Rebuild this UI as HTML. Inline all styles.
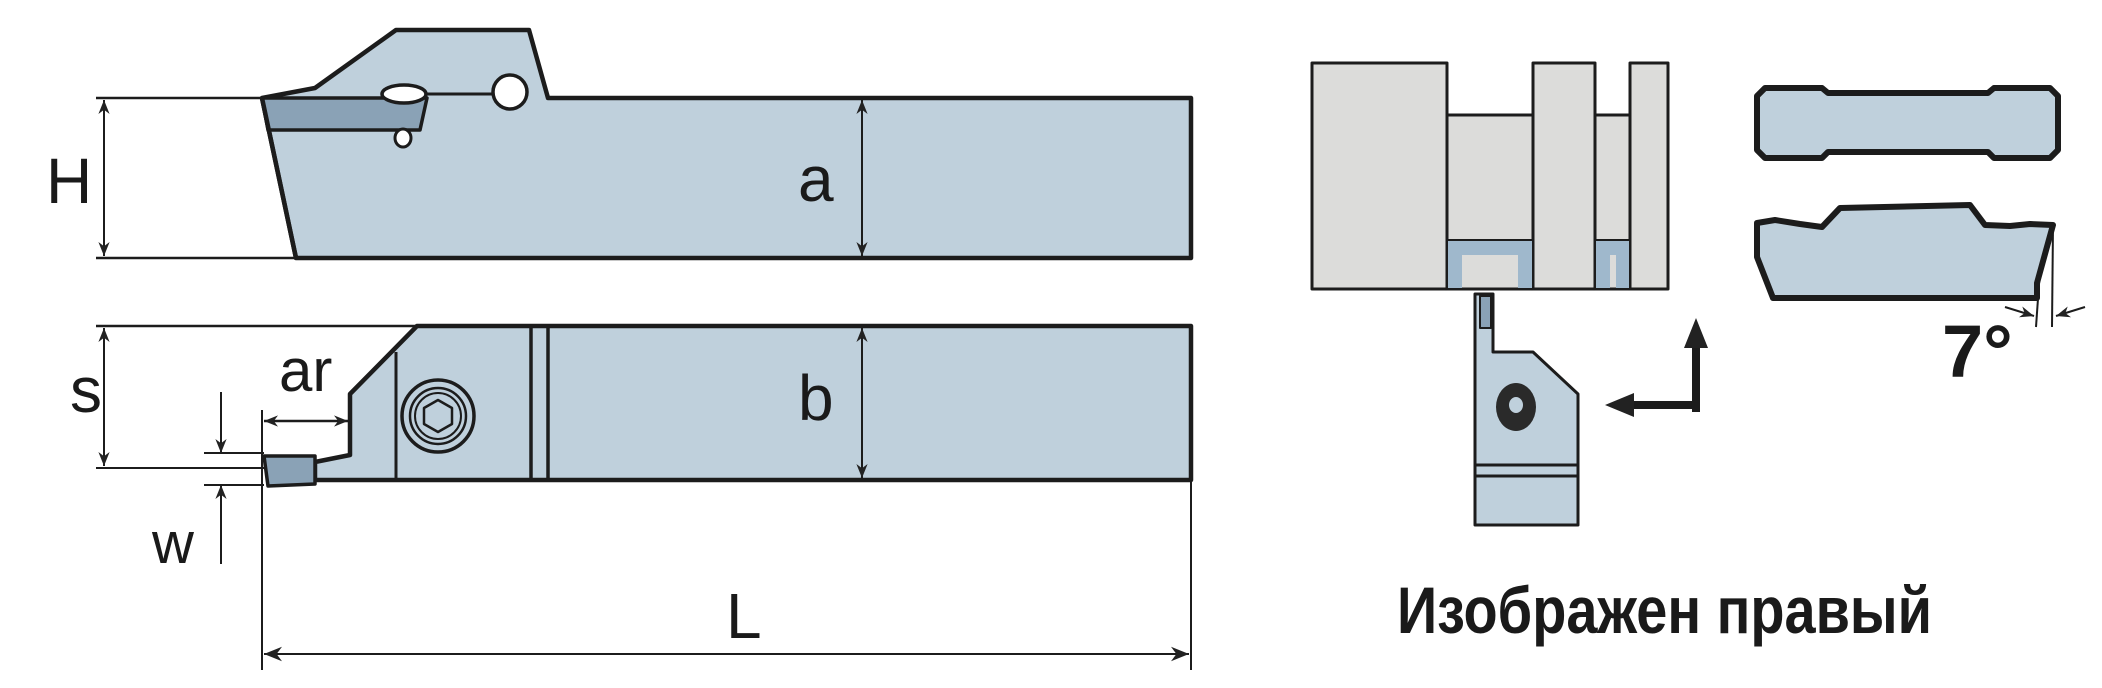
<!DOCTYPE html>
<html><head><meta charset="utf-8"><style>
html,body{margin:0;padding:0;background:#fff;}
svg{display:block;}
text{font-family:"Liberation Sans",sans-serif;fill:#1a1a1a;}
</style></head><body>
<svg width="2102" height="688" viewBox="0 0 2102 688" xmlns="http://www.w3.org/2000/svg">
<defs>
<marker id="ah" viewBox="0 0 10 10" refX="10" refY="5" markerWidth="20" markerHeight="14" orient="auto-start-reverse" markerUnits="userSpaceOnUse">
<path d="M0,1 L10,5 L0,9 L3,5 z" fill="#222"/>
</marker>
<marker id="ah2" viewBox="0 0 10 10" refX="10" refY="5" markerWidth="24" markerHeight="18" orient="auto-start-reverse" markerUnits="userSpaceOnUse">
<path d="M0,1 L10,5 L0,9 L3,5 z" fill="#222"/>
</marker>
</defs>
<g stroke="#1c1c1c" stroke-linejoin="round">
<!-- TOP TOOL -->
<path d="M262,98 L315,88 L396,30 L529,30 L548,98 L1191,98 L1191,258 L296,258 Z" fill="#bfd0dc" stroke-width="4.5"/>
<path d="M262,98 L427,98 L420,130 L268,130 Z" fill="#8aa2b6" stroke-width="3.5"/>
<line x1="262" y1="98" x2="296" y2="258" stroke-width="4.5"/>
<ellipse cx="404" cy="94" rx="22" ry="9" fill="#fff" stroke-width="3.5"/>
<line x1="425" y1="94" x2="495" y2="94" stroke-width="3"/>
<ellipse cx="510" cy="92" rx="17" ry="17" fill="#fff" stroke-width="3.5"/>
<ellipse cx="403" cy="138" rx="8" ry="9" fill="#fff" stroke-width="3"/>
<line x1="96" y1="98" x2="262" y2="98" stroke-width="2.5"/>
<line x1="96" y1="258" x2="296" y2="258" stroke-width="2.5"/>
<line x1="104" y1="100" x2="104" y2="256" stroke-width="2" marker-start="url(#ah)" marker-end="url(#ah)"/>
<line x1="862" y1="100" x2="862" y2="256" stroke-width="2" marker-start="url(#ah)" marker-end="url(#ah)"/>

<!-- BOTTOM TOOL -->
<path d="M417,326 L1191,326 L1191,480 L315,480 L315,462 L350,455 L350,394 Z" fill="#bfd0dc" stroke-width="4.5"/>
<path d="M264,456 L315,456 L315,484 L268,486 Z" fill="#8aa2b6" stroke-width="3.5"/>
<line x1="396" y1="352" x2="396" y2="480" stroke-width="3"/>
<line x1="531" y1="326" x2="531" y2="480" stroke-width="3.5"/>
<line x1="548" y1="326" x2="548" y2="480" stroke-width="3.5"/>
<ellipse cx="438" cy="416" rx="36" ry="36" fill="none" stroke-width="3.5"/>
<ellipse cx="438" cy="416" rx="28" ry="28" fill="none" stroke-width="2.5"/>
<ellipse cx="438" cy="416" rx="23" ry="23" fill="none" stroke-width="2"/>
<path d="M438,400 L452,408 L452,424 L438,432 L424,424 L424,408 Z" fill="none" stroke-width="2.5"/>
<line x1="96" y1="326" x2="417" y2="326" stroke-width="2.5"/>
<line x1="96" y1="468" x2="264" y2="468" stroke-width="2"/>
<line x1="104" y1="328" x2="104" y2="466" stroke-width="2" marker-start="url(#ah)" marker-end="url(#ah)"/>
<line x1="862" y1="328" x2="862" y2="478" stroke-width="2" marker-start="url(#ah)" marker-end="url(#ah)"/>
<line x1="204" y1="453" x2="264" y2="453" stroke-width="2"/>
<line x1="204" y1="485" x2="264" y2="485" stroke-width="2"/>
<line x1="221" y1="392" x2="221" y2="453" stroke-width="2" marker-end="url(#ah)"/>
<line x1="221" y1="564" x2="221" y2="485" stroke-width="2" marker-end="url(#ah)"/>
<line x1="264" y1="421" x2="348" y2="421" stroke-width="2.5" marker-start="url(#ah)" marker-end="url(#ah)"/>
<line x1="262" y1="410" x2="262" y2="670" stroke-width="2"/>
<line x1="1191" y1="482" x2="1191" y2="670" stroke-width="2"/>
<line x1="264" y1="654" x2="1189" y2="654" stroke-width="2" marker-start="url(#ah2)" marker-end="url(#ah2)"/>

<!-- RIGHT: workpiece -->
<rect x="1312" y="63" width="135" height="226" fill="#dcdcda" stroke-width="3"/>
<path d="M1447,115 L1533,115 L1533,289 L1447,289 Z" fill="#dcdcda" stroke-width="3"/>
<rect x="1533" y="63" width="62" height="226" fill="#dcdcda" stroke-width="3"/>
<path d="M1595,115 L1630,115 L1630,289 L1595,289 Z" fill="#dcdcda" stroke-width="3"/>
<rect x="1630" y="63" width="38" height="226" fill="#dcdcda" stroke-width="3"/>
<path d="M1448,240 L1532,240 L1532,288 L1518,288 L1518,255 L1462,255 L1462,288 L1448,288 Z" fill="#9fb8cc" stroke="none"/>
<line x1="1448" y1="240" x2="1532" y2="240" stroke-width="2"/>
<path d="M1596,240 L1629,240 L1629,288 L1616,288 L1616,255 L1610,255 L1610,288 L1596,288 Z" fill="#9fb8cc" stroke="none"/>
<line x1="1596" y1="240" x2="1629" y2="240" stroke-width="2"/>

<!-- small holder -->
<path d="M1475,294 L1493,294 L1493,352 L1533,352 L1578,394 L1578,525 L1475,525 Z" fill="#bfd0dc" stroke-width="3"/>
<rect x="1480" y="296" width="11" height="32" fill="#8aa2b6" stroke-width="2"/>
<line x1="1475" y1="465" x2="1578" y2="465" stroke-width="3"/>
<line x1="1475" y1="476" x2="1578" y2="476" stroke-width="3"/>
<ellipse cx="1516" cy="407" rx="20" ry="24" fill="#2a2a2a" stroke="none"/>
<ellipse cx="1516" cy="405" rx="7" ry="8" fill="#bfd0dc" stroke="none"/>

<!-- arrows -->
<path d="M1696,412 L1696,345" stroke-width="8" fill="none"/>
<path d="M1684,348 L1696,318 L1708,348 Z" fill="#222" stroke="none"/>
<path d="M1699,405 L1630,405" stroke-width="8" fill="none"/>
<path d="M1634,393 L1605,405 L1634,417 Z" fill="#222" stroke="none"/>

<!-- inserts -->
<path d="M1765,88 L1822,88 L1828,93 L1988,93 L1994,88 L2050,88 L2058,96 L2058,150 L2050,158 L1994,158 L1988,152 L1828,152 L1822,158 L1765,158 L1757,150 L1757,96 Z" fill="#bfd0dc" stroke-width="6"/>
<path d="M1757,223 L1775,220 L1800,224 L1822,227 L1840,208 L1970,205 L1985,225 L2010,226 L2030,224 L2053,225 L2037,283 L2037,298 L1773,298 L1757,257 Z" fill="#bfd0dc" stroke-width="6"/>
<line x1="2053" y1="225" x2="2052" y2="327" stroke-width="2"/>
<line x1="2040" y1="270" x2="2036" y2="327" stroke-width="2"/>
<path d="M2005,307 L2034,316" stroke-width="2" fill="none" marker-end="url(#ah)"/>
<path d="M2085,307 L2056,316" stroke-width="2" fill="none" marker-end="url(#ah)"/>
</g>

<text x="46" y="203" font-size="64">H</text>
<text x="798" y="201" font-size="64">a</text>
<text x="70" y="412" font-size="64">s</text>
<text x="279" y="391" font-size="60">ar</text>
<text x="798" y="420" font-size="64">b</text>
<text x="152" y="563" font-size="58">w</text>
<text x="726" y="638" font-size="64">L</text>
<text x="1942" y="377" font-size="74" font-weight="bold">7°</text>
<text x="1397" y="633" font-size="66" font-weight="bold" textLength="535" lengthAdjust="spacingAndGlyphs">Изображен правый</text>
</svg>
</body></html>
